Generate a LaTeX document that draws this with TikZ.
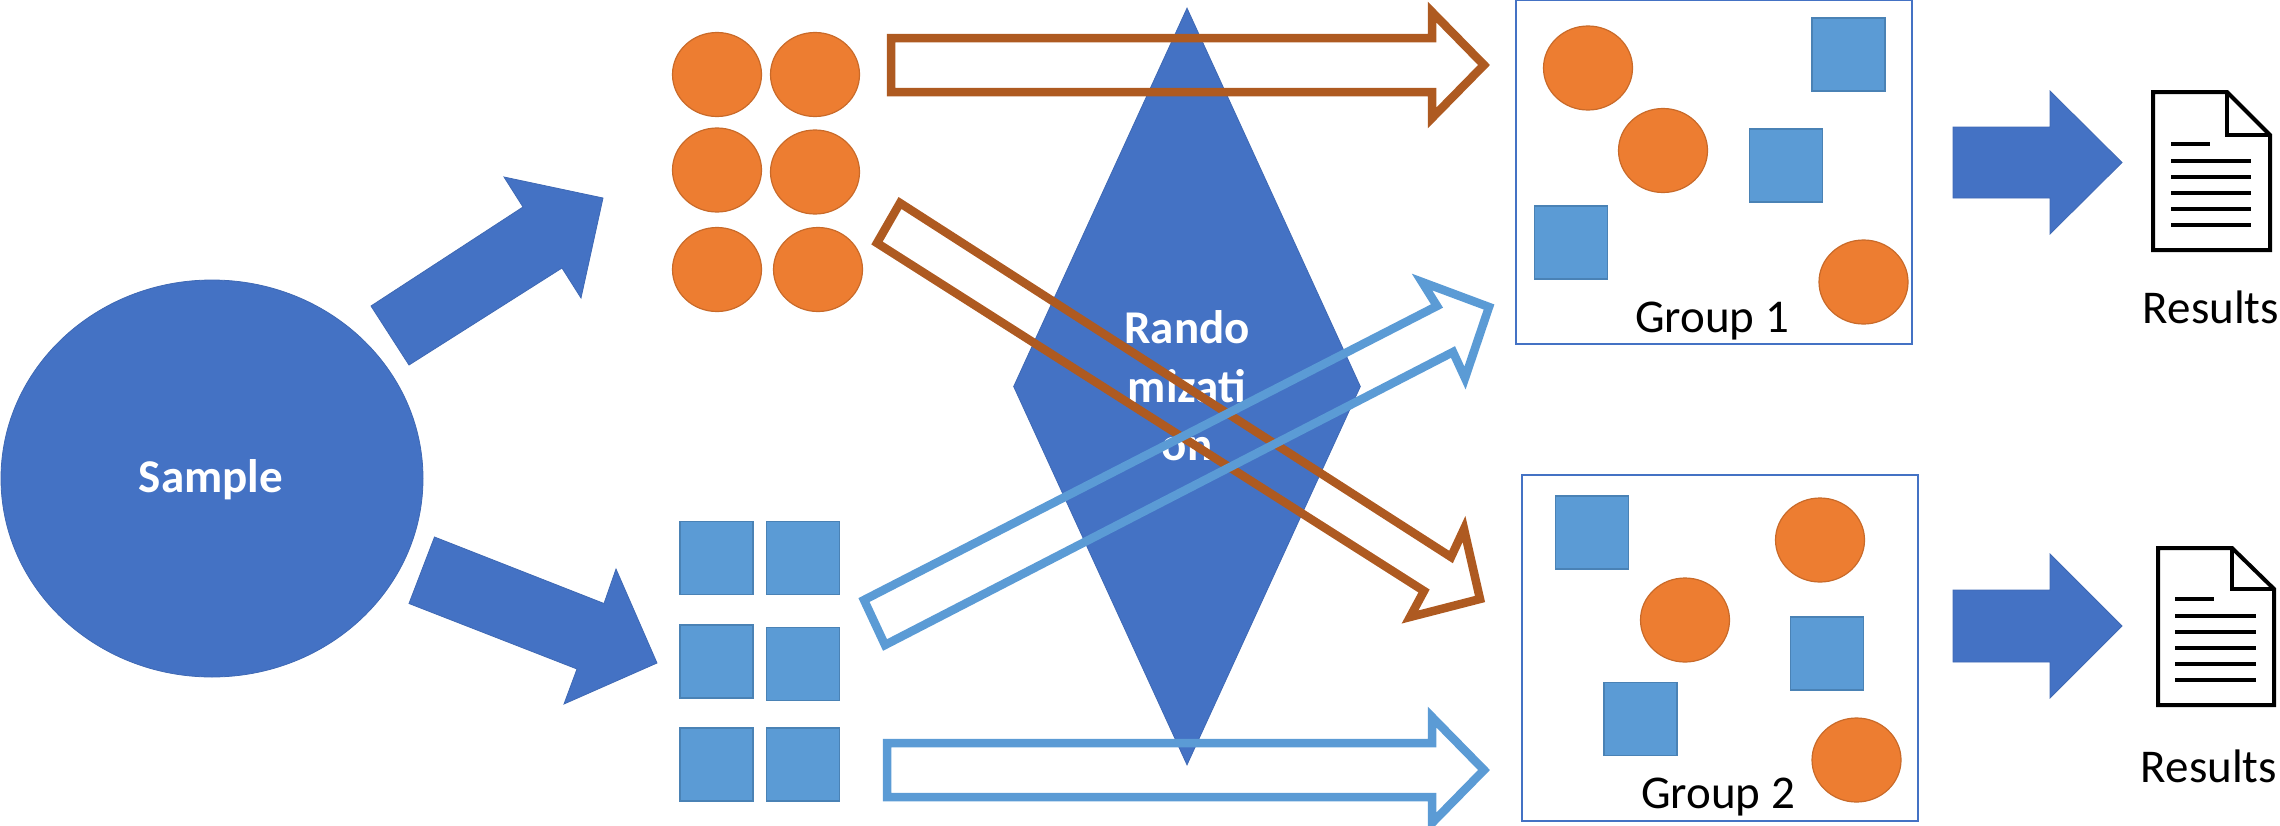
\documentclass[tikz,border=0pt]{standalone}
\usepackage{fontspec}
\setmainfont{Carlito}
\usetikzlibrary{shapes.geometric}
\definecolor{mainblue}{HTML}{4472C4}
\definecolor{mainblueline}{HTML}{3F69B4}
\definecolor{lightblue}{HTML}{5B9BD5}
\definecolor{lightblueline}{HTML}{4A82B5}
\definecolor{orangefill}{HTML}{ED7D31}
\definecolor{orangeline}{HTML}{C96A29}
\definecolor{brownline}{HTML}{AE5A21}
\tikzset{
  orangedot/.style={ellipse,draw=orangeline,fill=orangefill,line width=1.2pt,minimum width=89pt,minimum height=84pt,inner sep=0pt,outer sep=0pt},
  bluesq/.style={rectangle,draw=lightblueline,fill=lightblue,line width=1.2pt,minimum width=73pt,minimum height=73pt,inner sep=0pt,outer sep=0pt},
  blockarrow/.style={fill=mainblue,draw=mainblueline,line width=0.8pt,line join=miter},
  brownoutline/.style={draw=brownline,line width=8.5pt,line join=miter,miter limit=10},
  blueoutline/.style={draw=lightblue,line width=8.5pt,line join=miter,miter limit=10},
  groupbox/.style={rectangle,draw=mainblue,fill=white,line width=2.5pt,inner sep=0pt,outer sep=0pt},
  lbl/.style={font=\fontsize{47}{56}\selectfont,text=black,inner sep=0pt,anchor=base},
  whitelbl/.style={font=\fontsize{47}{58.5}\selectfont\bfseries,text=white,inner sep=0pt},
  docline/.style={draw=black,line width=3.6pt},
  docoutline/.style={draw=black,fill=white,line width=4pt,line join=miter}
}
\begin{document}
\begin{tikzpicture}[x=1pt,y=-1pt]
\useasboundingbox (0,0) rectangle (2280,825);
% Sample
\node[ellipse,fill=mainblue,draw=mainblueline,line width=0.8pt,minimum width=422pt,minimum height=397pt,inner sep=0pt] (sample) at (212,478.5) {};
\node[whitelbl,anchor=base] (sampletext) at (211,492.5) {Sample};
% arrows from sample
\draw[blockarrow] (371,306) -- (523,207) -- (504,177) -- (603,198) -- (581,298) -- (562,268) -- (409,365) -- cycle;
\draw[blockarrow] (434.5,537) -- (604,603.5) -- (616,569) -- (657,663) -- (564,704) -- (577,669) -- (409,603.5) -- cycle;
% top orange dots
\node[orangedot] (o11) at (717,74.5) {};
\node[orangedot] (o12) at (815,74.5) {};
\node[orangedot] (o21) at (717,170) {};
\node[orangedot] (o22) at (815,172) {};
\node[orangedot] (o31) at (717,269.5) {};
\node[orangedot] (o32) at (818,269.5) {};
% blue squares
\node[bluesq] (b11) at (716.5,558) {};
\node[bluesq] (b12) at (803,558) {};
\node[bluesq] (b21) at (716.5,661.5) {};
\node[bluesq] (b22) at (803,664) {};
\node[bluesq] (b31) at (716.5,764.5) {};
\node[bluesq] (b32) at (803,764.5) {};
% diamond
\node[diamond,fill=mainblue,draw=mainblueline,line width=0.8pt,shape aspect=0.46,inner sep=0pt,minimum width=347pt,minimum height=757pt] (rand) at (1187,386.5) {};
\node[whitelbl,align=center] (randtext) at (1187,386) {Rando\\mizati\\on};
% groups
\node[groupbox,minimum width=396pt,minimum height=344pt] (g1) at (1714,172) {};
\node[groupbox,minimum width=396pt,minimum height=346pt] (g2) at (1720,648) {};
% outline arrows
\draw[brownoutline] (891,38) -- (1432,38) -- (1432,12) -- (1484,65) -- (1432,118) -- (1432,92) -- (891,92) -- cycle;
\draw[brownoutline] (900,203) -- (1451,557) -- (1464,529) -- (1480,599) -- (1410,617) -- (1424,591) -- (877,243) -- cycle;
\draw[blueoutline] (864,600) -- (1437,306) -- (1422,282) -- (1489,307) -- (1465,378) -- (1453,352) -- (885,645) -- cycle;
\draw[blueoutline] (887,743) -- (1432,743) -- (1432,717) -- (1484,770) -- (1432,823) -- (1432,797) -- (887,797) -- cycle;
% group 1 contents
\node[orangedot] (g1o1) at (1588,68) {};
\node[orangedot] (g1o2) at (1663,150.5) {};
\node[orangedot] (g1o3) at (1863.5,282) {};
\node[bluesq] (g1b1) at (1848.5,54.5) {};
\node[bluesq] (g1b2) at (1786,165.5) {};
\node[bluesq] (g1b3) at (1571,242.5) {};
\node[lbl] (g1text) at (1712,332) {Group 1};
% group 2 contents
\node[bluesq] (g2b1) at (1592,532.5) {};
\node[bluesq] (g2b2) at (1827,653.5) {};
\node[bluesq] (g2b3) at (1640.5,719) {};
\node[orangedot] (g2o1) at (1820,540) {};
\node[orangedot] (g2o2) at (1685,620) {};
\node[orangedot] (g2o3) at (1856.5,760) {};
\node[lbl] (g2text) at (1718,808) {Group 2};
% result arrows
\draw[blockarrow] (1953,127) -- (2050,127) -- (2050,91) -- (2122,162.5) -- (2050,234) -- (2050,198) -- (1953,198) -- cycle;
\draw[blockarrow] (1953,590) -- (2050,590) -- (2050,554) -- (2122,626) -- (2050,698) -- (2050,662) -- (1953,662) -- cycle;
% document 1
\draw[docoutline] (2153,92) -- (2227,92) -- (2270,135) -- (2270,250) -- (2153,250) -- cycle;
\draw[docline,line join=miter] (2227,92) -- (2227,135) -- (2270,135);
\foreach \yy in {161,177,193,209,225} \draw[docline] (2171,\yy) -- (2251,\yy);
\draw[docline] (2171,144) -- (2210,144);
\node[lbl] (r1) at (2211,323) {Results};
% document 2
\draw[docoutline] (2158,548) -- (2232,548) -- (2274,589) -- (2274,705) -- (2158,705) -- cycle;
\draw[docline,line join=miter] (2232,548) -- (2232,589) -- (2274,589);
\foreach \yy in {616,632,648,664,680} \draw[docline] (2175,\yy) -- (2256,\yy);
\draw[docline] (2175,599) -- (2214,599);
\node[lbl] (r2) at (2209,782) {Results};
\end{tikzpicture}
\end{document}
